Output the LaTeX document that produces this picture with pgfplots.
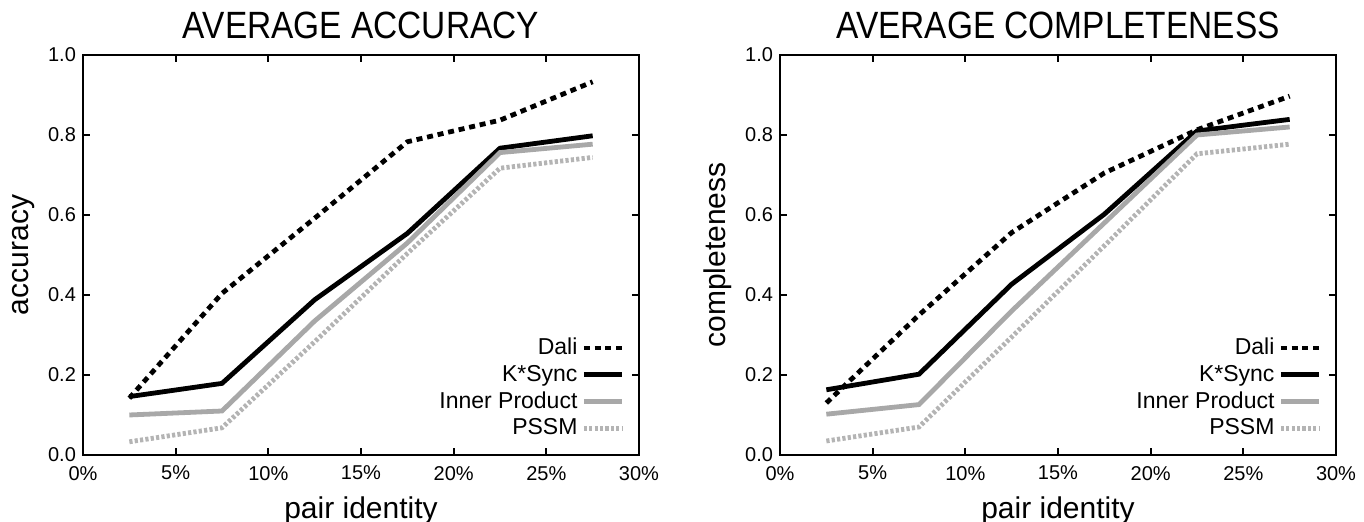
\documentclass[border=0pt]{standalone}
\usepackage{fontspec}
\setmainfont{Liberation Sans}
\newfontfamily\titlefont[FakeStretch=0.88]{Liberation Sans}
\usepackage{pgfplots}
\pgfplotsset{compat=1.18}
\definecolor{gA}{HTML}{A8A8A8}
\definecolor{gB}{HTML}{B4B4B4}
\pgfplotsset{
  common/.style={
    scale only axis, width=278pt, height=200pt,
    xmin=0, xmax=30, ymin=0, ymax=1,
    xtick={0,5,...,30}, ytick={0,0.2,...,1},
    xticklabel={\pgfmathprintnumber{\tick}\%},
    yticklabel style={/pgf/number format/.cd, fixed, fixed zerofill, precision=1},
    xticklabel style={yshift=-2pt},
    /pgf/number format/assume math mode=true,
    tick align=inside, major tick length=3.5pt,
    axis line style={line width=1.1pt}, every tick/.style={line width=0.9pt, black},
    tick label style={font=\fontsize{10}{11}\selectfont},
    label style={font=\fontsize{15}{17}\selectfont},
    title style={font=\titlefont\fontsize{19}{22}\selectfont, yshift=-1.5pt},
    xlabel style={yshift=-1.2pt},
    legend plot pos=right, legend cell align=right,
    legend style={at={(0.985,0.022)}, anchor=south east, draw=none, fill=none,
      font=\fontsize{11.5}{13}\selectfont, row sep=-0.3pt},
    legend image code/.code={\draw[#1] (0pt,0pt) -- (19pt,0pt);},
  },
  dali/.style={black, line width=2.4pt, dash pattern=on 3pt off 2.4pt},
  ksync/.style={black, line width=2.4pt},
  inner/.style={gA, line width=2.4pt},
  pssm/.style={gB, line width=2.4pt, dash pattern=on 1.6pt off 1.1pt},
}
\begin{document}
\begin{tikzpicture}
\path[use as bounding box] (-41.5pt,-33.5pt) rectangle (640.5pt,227.5pt);
\begin{axis}[common, title={AVERAGE ACCURACY}, xlabel={pair identity}, ylabel={accuracy}]
\addplot[dali] coordinates {(2.5,0.142) (7.5,0.404) (12.5,0.592) (17.5,0.783) (22.5,0.837) (27.5,0.933)};
\addlegendentry{Dali}
\addplot[ksync] coordinates {(2.5,0.146) (7.5,0.179) (12.5,0.388) (17.5,0.554) (22.5,0.767) (27.5,0.798)};
\addlegendentry{K*Sync}
\addplot[inner] coordinates {(2.5,0.100) (7.5,0.110) (12.5,0.335) (17.5,0.530) (22.5,0.756) (27.5,0.777)};
\addlegendentry{Inner Product}
\addplot[pssm] coordinates {(2.5,0.033) (7.5,0.068) (12.5,0.283) (17.5,0.504) (22.5,0.717) (27.5,0.744)};
\addlegendentry{PSSM}
\end{axis}
\begin{axis}[common, at={(348.5pt,0pt)}, title={AVERAGE COMPLETENESS}, xlabel={pair identity}, ylabel={completeness}]
\addplot[dali] coordinates {(2.5,0.130) (7.5,0.350) (12.5,0.556) (17.5,0.705) (22.5,0.813) (27.5,0.897)};
\addlegendentry{Dali}
\addplot[ksync] coordinates {(2.5,0.163) (7.5,0.202) (12.5,0.427) (17.5,0.602) (22.5,0.810) (27.5,0.839)};
\addlegendentry{K*Sync}
\addplot[inner] coordinates {(2.5,0.102) (7.5,0.126) (12.5,0.360) (17.5,0.580) (22.5,0.800) (27.5,0.820)};
\addlegendentry{Inner Product}
\addplot[pssm] coordinates {(2.5,0.035) (7.5,0.070) (12.5,0.295) (17.5,0.523) (22.5,0.753) (27.5,0.777)};
\addlegendentry{PSSM}
\end{axis}
\end{tikzpicture}
\end{document}
